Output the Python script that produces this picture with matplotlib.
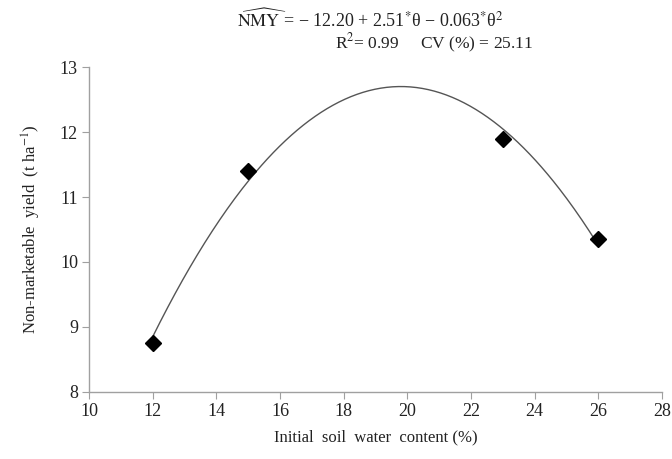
import numpy as np
import matplotlib
matplotlib.use("Agg")
import matplotlib.pyplot as plt

theta = [12, 15, 23, 26]
nmy = [8.755, 11.405, 11.89, 10.35]
xticks = [10, 12, 14, 16, 18, 20, 22, 24, 26, 28]
yticks = [8, 9, 10, 11, 12, 13]

plt.rcParams['font.family'] = ['Liberation Serif', 'DejaVu Serif']
plt.rcParams['mathtext.fontset'] = 'stix'

fig = plt.figure(figsize=(6.72, 4.59), dpi=100)
ax = fig.add_axes([0.1325, 0.1466, 0.8525, 0.7068])

coef = np.polyfit(theta, nmy, 2)
xs = np.linspace(min(theta), max(theta), 300)
ax.plot(xs, np.polyval(coef, xs), color='#555555', lw=1.0, zorder=2)
ax.plot(theta, nmy, linestyle='none', marker='D', markersize=8,
        color='black', zorder=3)

ax.set_xlim(10, 28)
ax.set_ylim(8, 13)
ax.set_xticks(xticks)
ax.set_yticks(yticks)
for s in ['top', 'right']:
    ax.spines[s].set_visible(False)
for s in ['left', 'bottom']:
    ax.spines[s].set_color('#a0a0a0')
    ax.spines[s].set_linewidth(1.0)
ax.tick_params(direction='out', length=5, color='#a0a0a0', labelsize=13,
               labelcolor='#222222', pad=3)

ax.set_xlabel('Initial  soil  water  content (%)', fontsize=12, labelpad=7,
              color='#222222')
ax.set_ylabel('Non-marketable  yield  (t ha$^{-1}$)', fontsize=12, labelpad=12,
              color='#222222')

fig.text(0.352, 0.958,
         r'$\widehat{\mathrm{NMY}}$ = − 12.20 + 2.51$^{*}$θ − 0.063$^{*}$θ$^{2}$',
         ha='left', va='center', fontsize=13, color='#222222')
fig.text(0.498, 0.905, r'R$^{2}$= 0.99     CV (%) = 25.11',
         ha='left', va='center', fontsize=12.5, color='#222222')

fig.savefig('out.png', dpi=100, facecolor='white')
